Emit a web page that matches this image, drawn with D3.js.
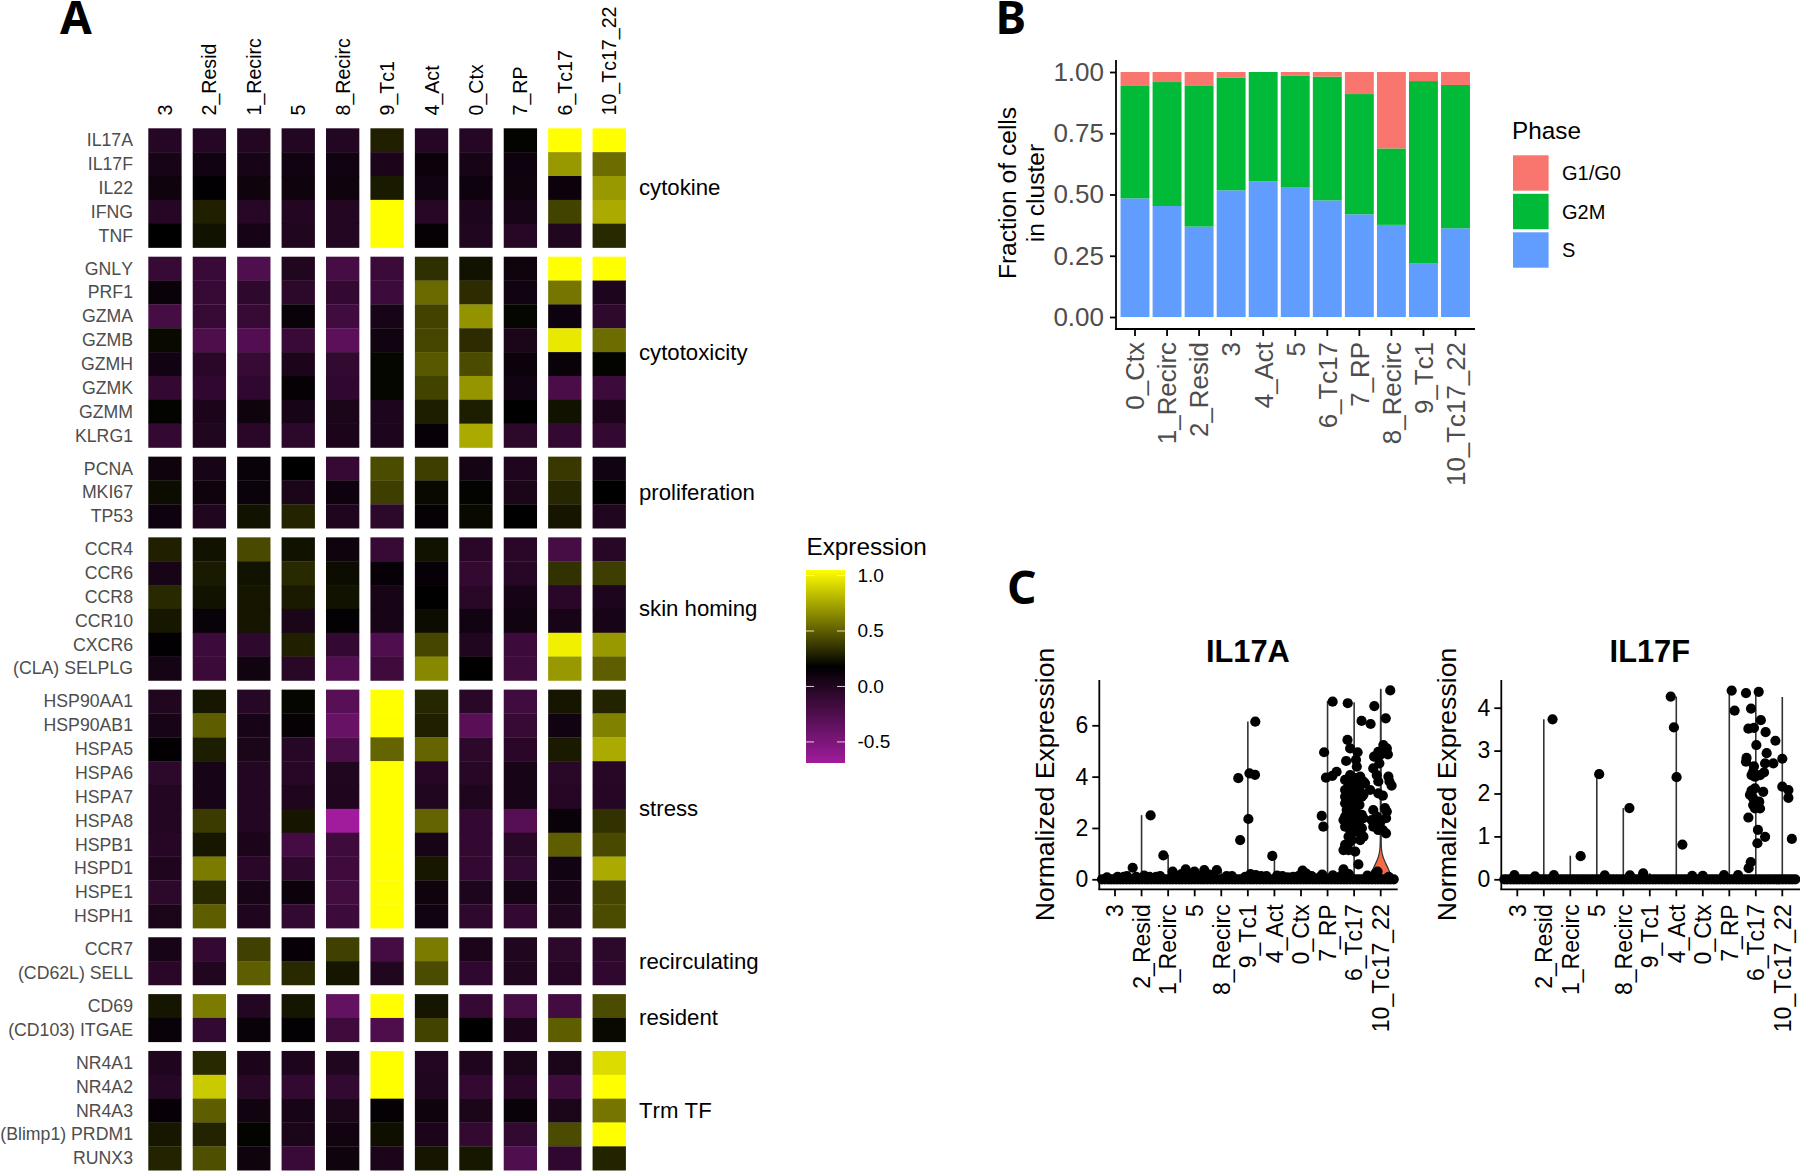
<!DOCTYPE html>
<html><head><meta charset="utf-8">
<script src="https://cdnjs.cloudflare.com/ajax/libs/d3/7.8.5/d3.min.js"></script>
<style>html,body{margin:0;background:#fff}svg{display:block}text{font-family:"Liberation Sans",Arial,sans-serif;font-kerning:none}</style>
</head><body><svg id="c" width="1800" height="1171"></svg>
<script>
// ---------- Panel A data ----------
const heatClusters = ["3","2_Resid","1_Recirc","5","8_Recirc","9_Tc1","4_Act","0_Ctx","7_RP","6_Tc17","10_Tc17_22"];
const groupNames = ["cytokine","cytotoxicity","proliferation","skin homing","stress","recirculating","resident","Trm TF"];
const cytokineGenes = ["IL17A","IL17F","IL22","IFNG","TNF"];
const cytokineValues = [
 [-.02,-.02,-.01,-.01,-.01,.29,-.02,-.02,.19,1.05,1.05],
 [.05,.08,.05,.08,.08,.03,.12,.05,.11,.70,.55],
 [.10,.17,.10,.10,.10,.27,.09,.11,.10,.12,.70],
 [-.02,.29,-.03,-.01,-.01,1.05,-.03,.02,.05,.41,.76],
 [.18,.24,.06,0,-.01,1.05,.15,0,-.03,0,.32]];
const cytotoxGenes = ["GNLY","PRF1","GZMA","GZMB","GZMH","GZMK","GZMM","KLRG1"];
const cytotoxValues = [
 [-.12,-.13,-.25,0,-.2,-.14,.34,.24,.1,1.05,1.05],
 [.13,-.12,-.07,-.06,-.1,-.15,.54,.33,.08,.58,.02],
 [-.2,-.12,-.12,.13,-.17,.05,.41,.68,.2,.11,-.07],
 [.21,-.24,-.27,-.13,-.32,.09,.42,.33,.04,.97,.55],
 [.08,-.05,-.12,.03,-.09,.2,.48,.44,.12,.13,.19],
 [-.1,-.08,-.08,.15,-.08,.2,.41,.69,.08,-.22,-.15],
 [.19,.03,.1,.05,.04,.02,.28,.28,.18,.24,.03],
 [-.1,0,-.05,-.06,.03,.02,.14,.76,-.06,-.1,-.1]];
const prolifGenes = ["PCNA","MKI67","TP53"];
const prolifValues = [
 [.1,.05,.13,.18,-.11,.44,.39,.07,.01,.37,.08],
 [.22,.1,.12,.04,.11,.39,.21,.19,.04,.31,.18],
 [.11,0,.24,.3,.01,-.06,.15,.21,.18,.25,0]];
const homingGenes = ["CCR4","CCR6","CCR8","CCR10","CXCR6","(CLA) SELPLG"];
const homingValues = [
 [.29,.24,.43,.24,.1,-.12,.24,-.05,-.05,-.2,-.03],
 [.05,.27,.24,.32,.22,.14,.14,-.1,-.03,.35,.39],
 [.32,.24,.25,.27,.24,.05,.18,-.04,.06,-.05,.02],
 [.26,.13,.25,.04,.16,.05,.22,.08,.09,.05,.05],
 [.17,-.15,-.07,.29,-.1,-.25,.42,0,-.15,1.0,.7],
 [.07,-.14,.09,-.04,-.27,-.16,.64,.18,-.16,.7,.5]];
const stressGenes = ["HSP90AA1","HSP90AB1","HSPA5","HSPA6","HSPA7","HSPA8","HSPB1","HSPD1","HSPE1","HSPH1"];
const stressValues = [
 [0,.26,-.03,.2,-.3,1.05,.31,-.04,-.17,.25,.3],
 [.05,.5,.05,.15,-.38,1.05,.29,-.3,-.12,.09,.62],
 [.17,.28,.04,-.03,-.22,.52,.52,-.06,-.05,.27,.76],
 [-.06,.05,-.01,-.03,0,1.05,-.02,-.03,.05,-.04,-.03],
 [-.01,.05,-.01,.01,.01,1.05,0,.01,.05,-.02,-.02],
 [-.01,.38,-.01,.25,-.69,1.05,.52,-.1,-.28,.13,.35],
 [-.02,.26,.03,-.19,-.16,1.05,.05,-.1,-.04,.5,.43],
 [.01,.6,-.05,-.07,-.16,1.05,.26,-.1,-.09,.08,.76],
 [-.06,.32,.05,.12,-.18,1.05,.1,.02,.07,.05,.42],
 [.04,.5,.01,-.09,-.15,1.05,.08,-.07,-.1,0,.44]];
const recircGenes = ["CCR7","(CD62L) SELL"];
const recircValues = [
 [.05,-.1,.4,.14,.4,-.19,.6,.03,0,-.06,-.06],
 [-.05,0,.5,.32,.25,0,.44,-.08,0,-.02,-.08]];
const residentGenes = ["CD69","(CD103) ITGAE"];
const residentValues = [
 [.25,.6,-.01,.25,-.36,1.05,.25,-.11,-.2,-.18,.44],
 [.13,-.09,.13,.16,-.16,-.24,.41,.18,.03,.5,.21]];
const trmGenes = ["NR4A1","NR4A2","NR4A3","(Blimp1) PRDM1","RUNX3"];
const trmValues = [
 [.01,.32,.03,.02,0,1.05,-.01,.01,.04,.04,.93],
 [-.03,.87,-.04,-.1,-.09,1.05,0,-.1,-.05,-.16,1.05],
 [.14,.5,.09,.05,.04,.15,.1,.04,.13,.04,.58],
 [.26,.3,.19,.04,.09,.23,.03,-.1,-.09,.44,1.05],
 [.3,.45,.1,-.13,.1,.03,.25,.26,-.25,-.08,.3]];
const legendTicks = [1.0,0.5,0.0,-0.5];

// ---------- Panel B data ----------
const phaseClusters = ["0_Ctx","1_Recirc","2_Resid","3","4_Act","5","6_Tc17","7_RP","8_Recirc","9_Tc1","10_Tc17_22"];
const phaseNames = ["G1/G0","G2M","S"];
const phaseColors = ["#F8766D","#00BA38","#619CFF"];
const fracS   = [.484,.453,.369,.517,.554,.528,.476,.419,.376,.218,.362];
const fracG2M = [.459,.506,.574,.461,.446,.458,.505,.491,.312,.745,.585];
const fracG1  = [.057,.041,.057,.022,0,.014,.019,.090,.312,.037,.053];
const fractionTicks = [0,.25,.5,.75,1];

// ---------- Panel C data ----------
const vlnClusters = ["3","2_Resid","1_Recirc","5","8_Recirc","9_Tc1","4_Act","0_Ctx","7_RP","6_Tc17","10_Tc17_22"];
const il17aMax = [0,2.5,.95,.4,.38,6.15,.9,.35,6.95,6.9,7.4];
const il17fMax = [.08,3.73,.55,2.45,1.66,.14,4.26,.06,4.4,4.37,4.25];
const zeroBandX = [-.49,-.38,-.25,-.14,-.03,.08,.2,.31,.43,.55,.66,.78,.9,1.01,1.13,1.24,1.36,1.48,1.6,1.71,1.83,1.95,2.07,2.18,2.3,2.42,2.53,2.65,2.77,2.88,3,3.12,3.24,3.35,3.47,3.59,3.7,3.82,3.94,4.05,4.17,4.29,4.41,4.52,4.64,4.76,4.87,4.99,5.11,5.22,5.34,5.46,5.58,5.69,5.81,5.93,6.04,6.16,6.28,6.39,6.51,6.63,6.75,6.86,6.98,7.1,7.21,7.33,7.45,7.56,7.68,7.8,7.92,8.03,8.15,8.27,8.38,8.5,8.62,8.73,8.85,8.97,9.09,9.2,9.32,9.44,9.55,9.67,9.79,9.9,10.02,10.14,10.26,10.37,10.49];
const il17aX = [.33,.665,1.3,1.34,1.7,1.82,2.17,2.66,2.99,3.36,3.83,4.4,4.64,4.71,5.02,5.06,5.27,5.28,5.1,5.7,5.92,6.3,6.7,7.06,7.2,6.9,7.78,7.84,7.87,7.94,8.18,8.34,8.19,7.8,8.2,
 8.76,8.75,8.85,9.13,8.7,9.07,9.1,9.28,9.62,
 8.66,8.85,9.04,9.23,9.35,8.79,8.97,9.16,9.41,8.66,8.85,9.04,9.23,9.35,8.66,8.79,8.97,9.1,9.29,8.66,8.85,9.04,9.2,8.72,8.91,9.1,8.66,8.79,8.97,9.29,9.35,8.6,8.79,8.97,9.16,9.29,8.66,8.85,9.04,9.23,9.35,8.79,8.91,9.23,8.79,8.66,8.6,8.79,9.04,9.16,8.6,
 9.76,10.36,10.19,9.75,9.91,10.1,10.23,10.27,9.97,9.72,9.95,9.85,9.91,10.29,10.33,10.41,9.6,9.91,10.08,9.72,9.85,10.16,10.23,10.2,9.66,9.72,9.97,9.91,10.2,10.08,9.88,
 -.3,.1,.45,.8,1.1,1.55,2.3,2.5,2.8,3.2,3.55,4.2,4.9,5.3,5.5,6.1,6.5,7.4,7.7,8.5,8.8,9.5,9.8,10.3];
const il17aY = [.1,.45,.1,2.49,.12,.93,.3,.39,.3,.36,.36,.12,3.94,1.53,2.35,4.13,4.07,6.14,.2,.12,.91,.12,.1,.34,.22,.12,2.47,2.05,4.95,3.96,4.03,4.19,6.92,.18,.15,
 6.86,5.43,5.1,4.95,4.61,4.65,4.39,6.17,6.05,
 3.87,4.06,3.94,4,3.81,3.68,3.61,3.61,3.74,3.48,3.42,3.35,3.42,3.29,3.22,3.09,3.09,3.16,3.22,2.96,2.9,2.83,2.9,2.7,2.64,2.57,2.44,2.38,2.31,2.51,2.38,2.31,2.18,2.12,2.18,1.99,2.05,1.92,1.86,1.79,1.66,1.66,1.53,1.53,1.4,1.34,1.14,1.14,1.08,.58,.39,
 6.75,7.36,6.27,4.78,4.97,5.23,5.1,4.87,4.84,4.32,4.52,4.06,3.81,4,3.81,3.65,3.48,3.35,3.26,2.7,2.44,2.77,2.64,2.38,2.31,2.05,2.18,1.92,1.79,1.92,.3,
 .08,.1,.12,.1,.14,.1,.12,.2,.1,.12,.18,.12,.1,.16,.12,.14,.08,.12,.08,.12,.2,.14,.22,.1];
const il17fX = [-.11,.67,1.33,2.39,3.09,4.23,3.3,4.75,5.79,5.91,6.01,6.23,6.6,7.0,7.8,8.09,8.2,8.33,8.63,9.11,8.82,9.19,8.72,8.93,9.37,9.74,9.02,9.41,8.65,8.63,10,9.35,9.66,8.93,9.31,9.16,8.84,8.97,8.9,10,10.23,10.23,8.97,8.84,8.78,9.28,8.9,9.13,8.9,8.97,9.16,8.72,10.36,9.08,9.35,9.06,8.81,8.73,1.38,4.25];
const il17fY = [.1,.07,3.73,.54,2.45,1.66,.09,.14,4.26,3.54,2.38,.81,.08,.08,.1,4.4,3.93,.1,4.34,4.37,3.98,3.71,3.51,3.53,3.43,3.23,3.13,2.94,2.83,2.74,2.81,2.7,2.7,2.63,2.49,2.43,2.43,2.39,2.51,2.16,2.08,1.9,2.12,2.07,1.97,2.04,1.89,1.81,1.73,1.65,1.65,1.44,.94,1.15,.99,.84,.4,.26,.1,.09];
const violinLevel = [0,.15,.26,.49,.75,1.0,1.27,1.8,3,4.2,7.4];
const violinHalfWidth = [.36,.36,.35,.25,.125,.05,.015,.012,.012,.012,.004];
const il17aTicks = [0,2,4,6];
const il17fTicks = [0,1,2,3,4];

// ---------- drawing ----------
const svg = d3.select("#c");
const GRAY = "#4d4d4d";

// Panel letters
[["A",60,34],["B",995.5,34],["C",1007,604]].forEach(([t,x,y])=>{
  svg.append("text").text(t).attr("x",x).attr("y",y)
    .style("font-family","'Noto Sans','Open Sans',sans-serif").style("font-weight",700).style("font-size","46px").attr("fill","#000");
});

// Panel A
const heatColor = d3.scaleLinear().domain([-.69,.18,1.05]).range(["#a01c9c","#000000","#ffff00"]).clamp(true);
const heatX = d3.scaleBand().domain(heatClusters).range([148.3,625.9]).paddingInner(.25);
const groups = [[cytokineGenes,cytokineValues],[cytotoxGenes,cytotoxValues],[prolifGenes,prolifValues],[homingGenes,homingValues],[stressGenes,stressValues],[recircGenes,recircValues],[residentGenes,residentValues],[trmGenes,trmValues]];
const gA = svg.append("g");
heatClusters.forEach(c=>{
  const x = heatX(c)+heatX.bandwidth()/2;
  gA.append("text").text(c).attr("transform",`translate(${x},115.5) rotate(-90)`).attr("dy","0.36em")
    .style("font-size","19.6px").attr("fill","#000");
});
let groupTop = 128.3;
const ROW=23.85, GAP=9.15;
groups.forEach(([genes,vals],gi)=>{
  const y = d3.scaleBand().domain(genes).range([groupTop,groupTop+genes.length*ROW]);
  genes.forEach((g,ri)=>{
    gA.selectAll(null).data(vals[ri]).enter().append("rect")
      .attr("x",(d,i)=>heatX(heatClusters[i])).attr("y",y(g))
      .attr("width",heatX.bandwidth()).attr("height",y.bandwidth()+.3)
      .attr("fill",d=>heatColor(d));
    gA.append("text").text(g).attr("x",133).attr("y",y(g)+y.bandwidth()/2-.4).attr("dy","0.36em")
      .attr("text-anchor","end").style("font-size","17.7px").attr("fill",GRAY);
  });
  gA.append("text").text(groupNames[gi]).attr("x",639).attr("y",groupTop+genes.length*ROW/2-.5).attr("dy","0.36em")
    .style("font-size","22.2px").attr("fill","#000");
  groupTop += genes.length*ROW+GAP;
});

// Expression legend
const legY = d3.scaleLinear().domain([-.69,1.05]).range([763,570]);
const defs = svg.append("defs");
const grad = defs.append("linearGradient").attr("id","lg").attr("x1",0).attr("x2",0).attr("y1",1).attr("y2",0);
[-.69,.18,1.05].forEach(v=>grad.append("stop").attr("offset",(v+.69)/1.74).attr("stop-color",heatColor(v)));
svg.append("text").text("Expression").attr("x",806.5).attr("y",546.7).attr("dy","0.36em").style("font-size","24.3px").attr("fill","#000");
svg.append("rect").attr("x",806).attr("y",570).attr("width",39).attr("height",193).attr("fill","url(#lg)");
legendTicks.forEach(t=>{
  const y=legY(t);
  svg.append("line").attr("x1",806).attr("x2",814).attr("y1",y).attr("y2",y).attr("stroke","#fff").attr("stroke-opacity",.8);
  svg.append("line").attr("x1",837).attr("x2",845).attr("y1",y).attr("y2",y).attr("stroke","#fff").attr("stroke-opacity",.8);
  svg.append("text").text(t.toFixed(1)).attr("x",857.5).attr("y",y-.7).attr("dy","0.36em").style("font-size","19px").attr("fill","#000");
});

// Panel B
function styleAxis(g,w){ g.selectAll("path.domain,line").attr("stroke","#000").attr("stroke-width",w); }
const bXc = d3.scalePoint().domain(phaseClusters).range([1135,1455.5]);
const bY = d3.scaleLinear().domain([0,1]).range([317,72]);
const bStack = d3.stack().keys(["S","G2M","G1"])(phaseClusters.map((c,i)=>({c,S:fracS[i],G2M:fracG2M[i],G1:fracG1[i]})));
const bCols = {S:phaseColors[2],G2M:phaseColors[1],G1:phaseColors[0]};
bStack.forEach(s=>{
  svg.append("g").selectAll("rect").data(s).enter().append("rect")
    .attr("x",d=>bXc(d.data.c)-14.45).attr("width",28.9)
    .attr("y",d=>bY(d[1])).attr("height",d=>bY(d[0])-bY(d[1]))
    .attr("fill",bCols[s.key]);
});
const bAxisY = svg.append("g").attr("transform","translate(1116,0)").call(d3.axisLeft(bY).tickValues(fractionTicks).tickFormat(d3.format(".2f")).tickSize(6).tickSizeOuter(0));
bAxisY.select(".domain").attr("d","M0,60V329");
styleAxis(bAxisY,1.8);
bAxisY.selectAll("text").style("font-size","26px").attr("fill",GRAY).attr("x",-12);
const bAxisLine = svg.append("g").attr("transform","translate(0,329)");
bAxisLine.append("line").attr("x1",1115).attr("x2",1475).attr("stroke","#000").attr("stroke-width",1.8);
phaseClusters.forEach(c=>{
  const x=bXc(c);
  bAxisLine.append("line").attr("x1",x).attr("x2",x).attr("y2",7).attr("stroke","#000").attr("stroke-width",1.8);
  bAxisLine.append("text").text(c).attr("transform",`translate(${x},13) rotate(-90)`).attr("dy","0.36em").attr("text-anchor","end").style("font-size","25.9px").attr("fill",GRAY);
});
[["Fraction of cells",1007],["in cluster",1035]].forEach(([t,x])=>{
  svg.append("text").text(t).attr("transform",`translate(${x},193) rotate(-90)`).attr("dy","0.36em").attr("text-anchor","middle").style("font-size","24.6px").attr("fill","#000");
});
svg.append("text").text("Phase").attr("x",1512).attr("y",130.7).attr("dy","0.36em").style("font-size","24.3px").attr("fill","#000");
phaseNames.forEach((p,i)=>{
  const y=155.3+i*38.5;
  svg.append("rect").attr("x",1513).attr("y",y).attr("width",35.6).attr("height",35.4).attr("fill",phaseColors[i]);
  svg.append("text").text(p).attr("x",1562).attr("y",y+17.7).attr("dy","0.36em").style("font-size","20px").attr("fill","#000");
});

// Panel C
function vln(o){
  const g = svg.append("g");
  const x = d3.scaleLinear().domain([0,10]).range([o.x0,o.x10]);
  const y = d3.scaleLinear().domain([0,o.tickV]).range([879.3,o.tickY]);
  const ya = g.append("g").attr("transform",`translate(${o.ax},0)`).call(d3.axisLeft(y).tickValues(o.ticks).tickFormat(d3.format("d")).tickSize(7).tickSizeOuter(0));
  ya.select(".domain").attr("d","M0,680V889.3");
  styleAxis(ya,1.8);
  ya.selectAll("text").style("font-size","23px").attr("fill","#000").attr("x",-11);
  const xa = g.append("g").attr("transform","translate(0,889.3)");
  xa.append("line").attr("x1",o.ax-1).attr("x2",o.xEnd).attr("stroke","#000").attr("stroke-width",1.8);
  vlnClusters.forEach((c,i)=>{
    xa.append("line").attr("x1",x(i)).attr("x2",x(i)).attr("y2",7).attr("stroke","#000").attr("stroke-width",1.8);
    xa.append("text").text(c).attr("transform",`translate(${x(i)},15) rotate(-90)`).attr("dy","0.36em").attr("text-anchor","end").style("font-size","23px").attr("fill","#000");
  });
  o.max.forEach((m,i)=>{
    g.append("line").attr("x1",x(i)).attr("x2",x(i)).attr("y1",y(0)).attr("y2",y(m)).attr("stroke","#333").attr("stroke-width",1.6);
  });
  if(o.violin){
    const pts = violinLevel.map((v,i)=>[v,violinHalfWidth[i]]);
    const area = d3.area().curve(d3.curveBasis).y(d=>y(d[0])).x0(d=>x(10-d[1])).x1(d=>x(10+d[1]));
    g.append("path").attr("d",area(pts)).attr("fill","#F56A47").attr("stroke","#333").attr("stroke-width",1.2);
  }
  const R=5.1;
  g.append("g").selectAll("circle").data(zeroBandX).enter().append("circle")
    .attr("cx",d=>x(d)).attr("cy",y(0)).attr("r",R).attr("fill","#000");
  g.append("g").selectAll("circle").data(o.px).enter().append("circle")
    .attr("cx",d=>x(d)).attr("cy",(d,i)=>y(o.py[i])).attr("r",R).attr("fill","#000");
  g.append("text").text(o.title).attr("x",x(5)).attr("y",661.7).attr("text-anchor","middle").style("font-size","30.8px").style("font-weight",700).attr("fill","#000");
  g.append("text").text("Normalized Expression").attr("transform",`translate(${o.titleX},784.5) rotate(-90)`).attr("dy","0.36em").attr("text-anchor","middle").style("font-size","26.6px").attr("fill","#000");
}
vln({x0:1115,x10:1380.7,ax:1099.3,xEnd:1397.7,tickV:6,tickY:725.3,ticks:il17aTicks,max:il17aMax,px:il17aX,py:il17aY,title:"IL17A",titleX:1044,violin:true});
vln({x0:1517.3,x10:1782.3,ax:1501.3,xEnd:1800,tickV:4,tickY:707.7,ticks:il17fTicks,max:il17fMax,px:il17fX,py:il17fY,title:"IL17F",titleX:1446,violin:false});
</script></body></html>
